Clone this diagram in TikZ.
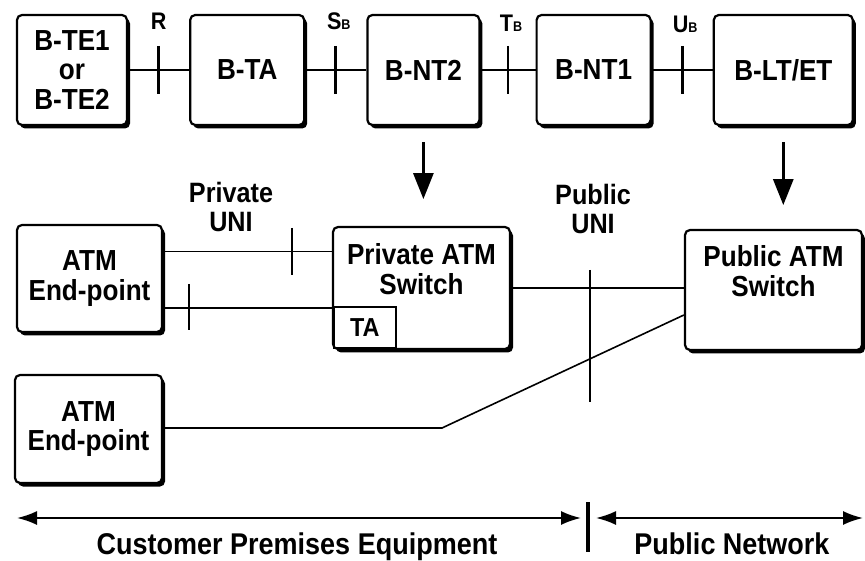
\documentclass[tikz,border=0pt]{standalone}
\usepackage{fontspec}
\setmainfont{Liberation Sans}[FakeStretch=0.9]
\usetikzlibrary{arrows.meta,positioning,calc,shadows}

\begin{document}
\begin{tikzpicture}[
  x=1pt, y=-1pt,
  fgroup/.style={draw, line width=2.2pt, rounded corners=5pt, fill=white, align=center, minimum height=110pt, font=\bfseries\fontsize{29}{29.5}\selectfont, drop shadow={shadow xshift=3pt, shadow yshift=-3.5pt, fill=black, opacity=1}},
  tabox/.style={draw, line width=1.6pt, minimum width=62pt, minimum height=41pt, font=\bfseries\fontsize{26}{28}\selectfont},
  refpt/.style={font=\bfseries\fontsize{24}{26}\selectfont},
  uni/.style={align=center, font=\bfseries\fontsize{28}{29}\selectfont},
  zone/.style={font=\bfseries\fontsize{30}{32}\selectfont},
  link/.style={line width=1.6pt},
  cut/.style={line width=2.8pt},
  down/.style={-{Triangle[length=26pt,width=20pt]}, line width=2.8pt},
  extent/.style={{Latex[length=20pt,width=14pt]}-{Latex[length=20pt,width=14pt]}, line width=2pt}
]
\useasboundingbox (0,0) rectangle (865,561);
% reference configuration
\node[fgroup, minimum width=110pt] (bte) at (72,70) {B-TE1\\or\\B-TE2};
\node[fgroup, minimum width=114pt, right=61pt of bte] (bta) {B-TA};
\node[fgroup, minimum width=112pt, right=61pt of bta] (bnt2) {B-NT2};
\node[fgroup, minimum width=114pt, right=55pt of bnt2] (bnt1) {B-NT1};
\node[fgroup, minimum width=139pt, right=61pt of bnt1] (blt) {B-LT/ET};
\coordinate (r) at ($(bte.east)!0.5!(bta.west)$);
\coordinate (sb) at ($(bta.east)!0.5!(bnt2.west)$);
\coordinate (tb) at ($(bnt2.east)!0.5!(bnt1.west)$);
\coordinate (ub) at ($(bnt1.east)!0.5!(blt.west)$);
\draw[link] (bte) -- (bta);
\draw[link] (bta) -- (bnt2);
\draw[link] (bnt2) -- (bnt1);
\draw[link] (bnt1) -- (blt);
\draw[cut] ([yshift=24pt]r) -- ([yshift=-24pt]r);
\draw[cut] ([yshift=24pt]sb) -- ([yshift=-24pt]sb);
\draw[cut] ([yshift=24pt]tb) -- ([yshift=-24pt]tb);
\draw[cut] ([yshift=24pt]ub) -- ([yshift=-24pt]ub);
\node[refpt] (rlab) at ([yshift=49pt]r) {R};
\node[refpt] (sblab) at ([xshift=3pt,yshift=49pt]sb) {S{\fontsize{14}{14}\selectfont B}};
\node[refpt] (tblab) at ([xshift=3pt,yshift=47pt]tb) {T{\fontsize{14}{14}\selectfont B}};
\node[refpt] (ublab) at ([xshift=3pt,yshift=46pt]ub) {U{\fontsize{14}{14}\selectfont B}};

% ATM realisation
\node[fgroup, minimum width=145pt, minimum height=107pt] (ep1) at (89.5,278.5) {ATM\\End-point};
\node[fgroup, minimum width=177pt, minimum height=122pt] (psw) at (421.5,288) {Private ATM\\Switch\\\strut};
\node[tabox, anchor=south west] (ta) at ([xshift=1.1pt,yshift=1.1pt]psw.south west) {TA};
\node[fgroup, minimum width=177pt, minimum height=120pt] (pub) at (773.5,290) {Public ATM\\Switch\\\strut};
\node[fgroup, minimum width=147pt, minimum height=108pt] (ep2) at (88.5,429) {ATM\\End-point};
\node[uni] (privuni) at (231,207) {Private\\UNI};
\node[uni] (pubuni) at (593,209) {Public\\UNI};
\draw[down] ([yshift=-16pt]bnt2.south) -- ([yshift=-73pt]bnt2.south);
\draw[down] ([yshift=-16pt]blt.south) -- ([yshift=-79pt]blt.south);
\coordinate (p1) at ([yshift=27pt]ep1.east);
\coordinate (p2) at ([yshift=-29.5pt]ep1.east);
\coordinate (bend) at (442,428);
\draw[link] (p1) -- (p1 -| psw.west);
\draw[link] (p2) -- (p2 -| ta.west);
\draw[link] (psw.east) -- (psw.east -| pub.west);
\draw[link] ([yshift=1pt]ep2.east) -- (bend) -- ([yshift=-25pt]pub.west);
\draw[cut] (292,228) -- (292,275);
\draw[cut] (189,284) -- (189,330);
\draw[cut] (590,270) -- (590,402);

% ownership
\coordinate (cpel) at (17,518);
\coordinate (cper) at (581,518);
\coordinate (pnl) at (596,518);
\coordinate (pnr) at (863,518);
\draw[extent] (cpel) -- (cper);
\draw[extent] (pnl) -- (pnr);
\draw[line width=4pt] (588,502) -- (588,552);
\node[zone] (cpe) at (297,547) {Customer Premises Equipment};
\node[zone] (pubnet) at (732,544) {Public Network};
\end{tikzpicture}
\end{document}
